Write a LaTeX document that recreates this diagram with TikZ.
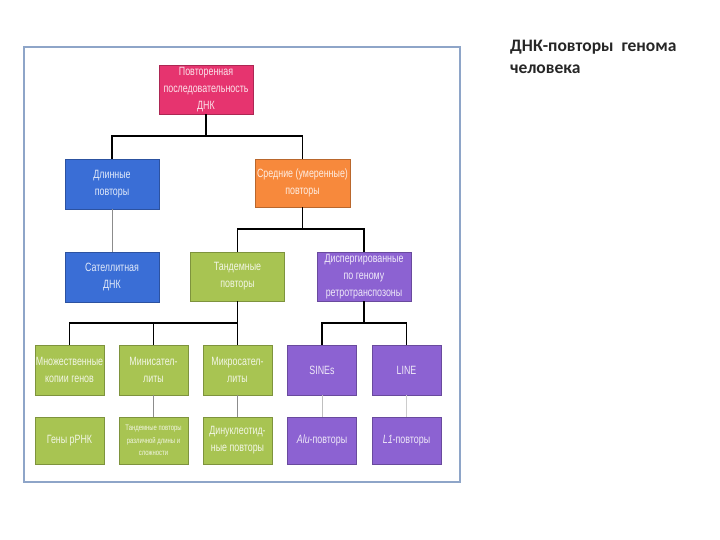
\documentclass[tikz,border=0pt]{standalone}
\usepackage{fontspec}
\setmainfont{Carlito}
\newfontfamily\boxfont[FakeStretch=0.74]{Liberation Sans}
\usetikzlibrary{calc}
\definecolor{cpink}{HTML}{E6346F}
\definecolor{cblue}{HTML}{3A6ED6}
\definecolor{corange}{HTML}{F7893C}
\definecolor{cgreen}{HTML}{A8C452}
\definecolor{cpurple}{HTML}{8C62D2}
\definecolor{cframe}{HTML}{8EA5C8}
\tikzset{
  box/.style={fill=#1, draw=#1!75!black, line width=0.7bp, inner sep=0pt,
    align=center, text=white!85!#1, font=\boxfont\fontsize{12bp}{17bp}\selectfont},
  conn/.style={draw=black, line width=1.3bp},
  thin/.style={draw=black!45, line width=0.6bp},
}
\begin{document}
\begin{tikzpicture}[x=1bp,y=-1bp]
\useasboundingbox (0,0) rectangle (720,540);
\draw[cframe, line width=2bp] (24,47) rectangle (460,482);

\node[box=cpink, minimum width=94bp, minimum height=49bp] (top) at (206,89.5) {Повторенная\\последовательность\\ДНК};
\node[box=cblue, minimum width=94bp, minimum height=50bp] (dl) at (112,184) {Длинные\\повторы};
\node[box=corange, minimum width=95bp, minimum height=48bp] (sr) at (302.5,183) {Средние (умеренные)\\повторы};
\node[box=cblue, minimum width=94bp, minimum height=50bp] (sat) at (112,277) {Сателлитная\\ДНК};
\node[box=cgreen, minimum width=94bp, minimum height=49bp] (tan) at (237.5,276.5) {Тандемные\\повторы};
\node[box=cpurple, minimum width=94bp, minimum height=49bp] (disp) at (364,276.5) {Диспергированные\\по геному\\ретротранспозоны};

\node[box=cgreen, minimum width=69bp, minimum height=50bp] (m1) at (69.5,370) {Множественные\\копии генов};
\node[box=cgreen, minimum width=69bp, minimum height=50bp] (m2) at (153.5,370) {Минисател-\\литы};
\node[box=cgreen, minimum width=69bp, minimum height=50bp] (m3) at (237.5,370) {Микросател-\\литы};
\node[box=cpurple, minimum width=69bp, minimum height=50bp] (s1) at (322,370) {SINEs};
\node[box=cpurple, minimum width=69bp, minimum height=50bp] (s2) at (406.5,370) {LINE};

\node[box=cgreen, minimum width=69bp, minimum height=47bp] (g1) at (69.5,440.5) {Гены рРНК};
\node[box=cgreen, minimum width=69bp, minimum height=47bp, font=\boxfont\fontsize{8bp}{12.5bp}\selectfont] (g2) at (153.5,440.5) {Тандемные повторы\\различной длины и\\сложности};
\node[box=cgreen, minimum width=69bp, minimum height=47bp] (g3) at (237.5,440.5) {Динуклеотид-\\ные повторы};
\node[box=cpurple, minimum width=69bp, minimum height=47bp] (p1) at (322,440.5) {\textit{Alu}-повторы};
\node[box=cpurple, minimum width=69bp, minimum height=47bp] (p2) at (406.5,440.5) {\textit{L1}-повторы};

\coordinate (b1) at (206,136);
\coordinate (b2) at (302.5,229);
\coordinate (b3) at (237.5,323);
\coordinate (b4) at (364,323);

\draw[conn] (top.south) -- (b1);
\draw[conn] (dl.north) |- (b1) -| (sr.north);
\draw[thin] (dl.south) -- (sat.north);
\draw[conn] (sr.south) -- (b2);
\draw[conn] (tan.north) |- (b2) -| (disp.north);
\draw[conn] (tan.south) -- (b3);
\draw[conn] (m1.north) |- (b3);
\draw[conn] (m2.north) -- (m2.north |- b3);
\draw[conn] (m3.north) -- (b3);
\draw[conn] (disp.south) -- (b4);
\draw[conn] (s1.north) |- (b4) -| (s2.north);
\draw[thin] (m2.south) -- (g2.north);
\draw[thin] (m3.south) -- (g3.north);
\draw[thin, draw=black!25] (s1.south) -- (p1.north);
\draw[thin, draw=black!20] (s2.south) -- (p2.north);

\node[anchor=north west, align=left, inner sep=0pt, font=\bfseries\fontsize{17.5bp}{22bp}\selectfont, text=black!85] (title) at (510,40) {ДНК-повторы\ \ генома\\человека};
\end{tikzpicture}
\end{document}
